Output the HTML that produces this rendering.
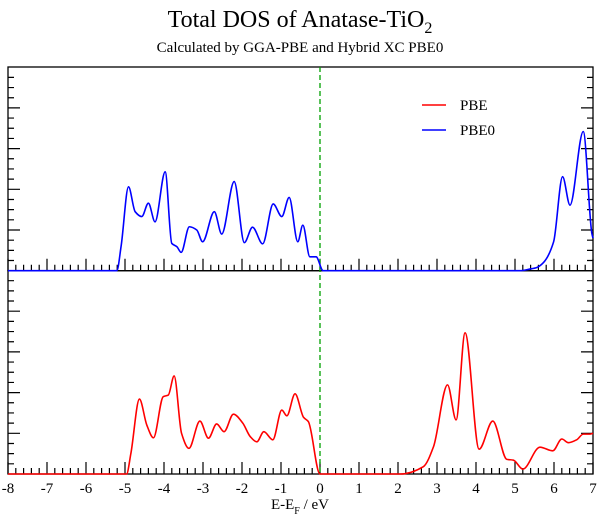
<!DOCTYPE html>
<html><head><meta charset="utf-8"><style>
html,body{margin:0;padding:0;background:#fff}
svg text{font-family:"Liberation Serif",serif;fill:#000}
</style></head><body>
<svg id="chart" width="600" height="518" viewBox="0 0 600 518" xmlns="http://www.w3.org/2000/svg">
<text x="300" y="27" font-size="24" text-anchor="middle">Total DOS of Anatase-TiO<tspan font-size="16" dy="6">2</tspan></text>
<text x="300" y="52" font-size="15" text-anchor="middle">Calculated by GGA-PBE and Hybrid XC PBE0</text>
<g id="axes"></g>
<g id="series"></g>
<g>
<line x1="422" y1="105" x2="446" y2="105" stroke="#ff0000" stroke-width="1.5"/>
<text x="460" y="110" font-size="15">PBE</text>
<line x1="422" y1="130" x2="446" y2="130" stroke="#0000ff" stroke-width="1.5"/>
<text x="460" y="135" font-size="15">PBE0</text>
</g>
<text x="300" y="509" font-size="15" text-anchor="middle">E-E<tspan font-size="10" dy="5">F</tspan><tspan dy="-5"> / eV</tspan></text>
</svg>
<script>
const xTicks = [-8,-7,-6,-5,-4,-3,-2,-1,0,1,2,3,4,5,6,7];
const pbe0E = [-8,-5.21,-5.1,-4.91,-4.74,-4.57,-4.40,-4.23,-3.97,-3.80,-3.67,-3.56,-3.35,-3.16,-3.01,-2.71,-2.52,-2.20,-1.94,-1.73,-1.47,-1.20,-0.98,-0.79,-0.57,-0.44,-0.26,-0.10,0.08,5.13,5.38,5.56,5.73,5.99,6.22,6.41,6.75,6.97,7];
const pbe0V = [0,0,0.6,2.06,1.45,1.33,1.66,1.2,2.43,0.67,0.59,0.45,1.08,1.0,0.71,1.45,0.9,2.19,0.69,1.07,0.66,1.64,1.33,1.80,0.71,1.12,0.34,0.34,0,0,0.04,0.08,0.2,0.71,2.31,1.61,3.42,0.92,0.8];
const pbeE = [-8,-4.96,-4.85,-4.63,-4.44,-4.27,-4.02,-3.89,-3.74,-3.55,-3.36,-3.08,-2.86,-2.65,-2.46,-2.22,-1.98,-1.79,-1.62,-1.44,-1.21,-0.98,-0.85,-0.64,-0.42,-0.30,0.0,2.05,2.65,2.91,3.27,3.49,3.72,4.08,4.43,4.79,4.96,5.20,5.64,5.97,6.20,6.37,6.58,6.75,6.92,7];
const pbeV = [0,0,0.5,1.84,1.2,0.89,1.9,1.94,2.41,1.0,0.63,1.30,0.88,1.23,1.04,1.47,1.25,0.92,0.79,1.04,0.84,1.57,1.43,1.97,1.39,1.29,0,0,0.18,0.67,2.19,1.33,3.47,0.61,1.30,0.36,0.34,0.12,0.66,0.57,0.86,0.77,0.84,0.98,0.98,1.0];

const NS='http://www.w3.org/2000/svg';
const X0=8, X1=593, XMIN=-8, XMAX=7;
const UNIT=40.7;
const topBase=270.7, botBase=474, topTop=67;
function xs(e){return X0+(e-XMIN)/(XMAX-XMIN)*(X1-X0);}
function ysTop(v){return topBase-v*UNIT;}
function ysBot(v){return botBase-v*UNIT;}
function mk(tag,attrs,parent){const el=document.createElementNS(NS,tag);for(const k in attrs)el.setAttribute(k,attrs[k]);parent.appendChild(el);return el;}
const axes=document.getElementById('axes');
const series=document.getElementById('series');

const f1=mk('rect',{x:X0,y:topTop,width:X1-X0,height:topBase-topTop,fill:'none',stroke:'#000','stroke-width':1.3},axes);


const f2=mk('rect',{x:X0,y:topBase,width:X1-X0,height:botBase-topBase,fill:'none',stroke:'#000','stroke-width':1.3},axes);



let d='';
for(let i=0;i<=75;i++){const e=XMIN+i*0.2;const x=xs(e);const major=(i%5===0);const L=major?12:6;
 d+=`M${x},${topBase}v${-L}M${x},${botBase}v${-L}`;}
for(let i=1;i<20;i++){const dy=i*UNIT/4;const L=(i%4===0)?12:6;
 for(const b of [topBase,botBase]){const y=b-dy; d+=`M${X0},${y}h${L}M${X1},${y}h${-L}`;}}
const tk=mk('path',{d:d,stroke:'#000','stroke-width':1.2,fill:'none'},axes);



xTicks.forEach(v=>{const t=mk('text',{x:xs(v),y:493,'font-size':15,'text-anchor':'middle'},axes);
 t.textContent=String(v);
 
 });

const fl=mk('line',{x1:xs(0),y1:topTop,x2:xs(0),y2:botBase,stroke:'#00a000','stroke-width':1.3,'stroke-dasharray':'5,3'},series);



// monotone cubic (Fritsch-Carlson) in x
function curve(E,V,ys){
 const x=E.map(xs), y=V.map(ys), n=x.length;
 const dk=[],h=[];
 for(let i=0;i<n-1;i++){h[i]=x[i+1]-x[i];dk[i]=(y[i+1]-y[i])/h[i];}
 const m=new Array(n);
 m[0]=dk[0];m[n-1]=dk[n-2];
 for(let i=1;i<n-1;i++){
  if(dk[i-1]*dk[i]<=0)m[i]=0;
  else{const w1=2*h[i]+h[i-1],w2=h[i]+2*h[i-1];m[i]=(w1+w2)/(w1/dk[i-1]+w2/dk[i]);}
 }
 let s=`M${x[0]},${y[0]}`;
 for(let i=0;i<n-1;i++){
  const c1x=x[i]+h[i]/3,c1y=y[i]+m[i]*h[i]/3,c2x=x[i+1]-h[i]/3,c2y=y[i+1]-m[i+1]*h[i]/3;
  s+=`C${c1x},${c1y} ${c2x},${c2y} ${x[i+1]},${y[i+1]}`;
 }
 return s;
}
const b=mk('path',{d:curve(pbe0E,pbe0V,ysTop),stroke:'#0000ff','stroke-width':1.6,fill:'none'},series);


const r=mk('path',{d:curve(pbeE,pbeV,ysBot),stroke:'#ff0000','stroke-width':1.6,fill:'none'},series);


</script>
</body></html>
